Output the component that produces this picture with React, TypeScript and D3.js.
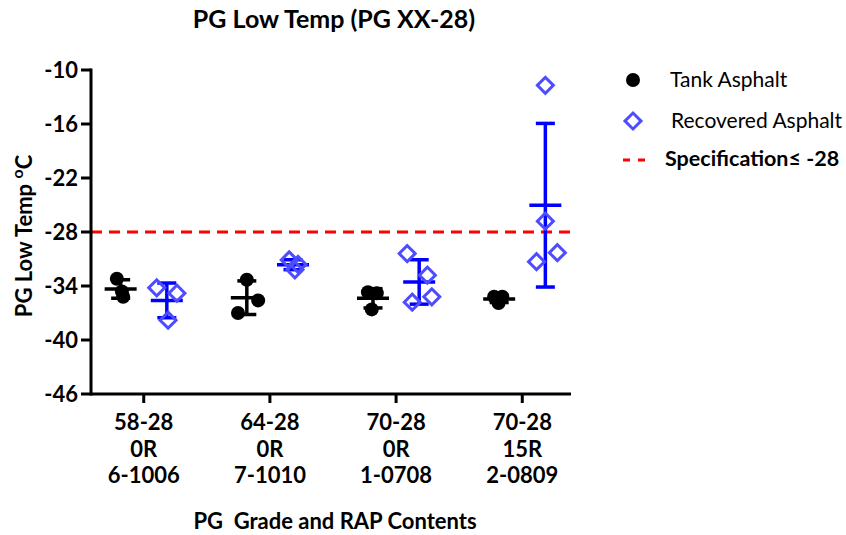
import * as d3 from "d3";

const categories = [
  ["58-28", "0R", "6-1006"],
  ["64-28", "0R", "7-1010"],
  ["70-28", "0R", "1-0708"],
  ["70-28", "15R", "2-0809"],
];

// PG low temperature, one array per category
const tankValues = [
  [-33.2, -34.6, -35.2],
  [-33.3, -35.6, -37.0],
  [-34.7, -34.8, -36.6],
  [-35.2, -35.2, -35.9],
];
const recoveredValues = [
  [-34.2, -34.8, -37.8],
  [-31.1, -31.6, -32.2],
  [-30.4, -32.8, -35.2, -35.8],
  [-11.7, -26.8, -30.3, -31.3],
];
// horizontal scatter of points, as fraction of category step
const tankJitter = [
  [-0.03, 0.01, 0.02],
  [0.0, 0.09, -0.07],
  [-0.04, 0.03, -0.01],
  [-0.04, 0.025, -0.005],
];
const recoveredJitter = [
  [-0.08, 0.08, 0.01],
  [-0.03, 0.04, 0.015],
  [-0.095, 0.065, 0.1, -0.055],
  [0.0, 0.0, 0.095, -0.07],
];
const yTicks = [-10, -16, -22, -28, -34, -40, -46];
const spec = -28;

const W = 846;
const H = 535;
const font = "Lato, 'Open Sans', sans-serif";

export default function App() {
  const left = 91;
  const right = 574;
  const top = 70;
  const bottom = 394;

  const x = d3
    .scalePoint<number>()
    .domain(d3.range(categories.length))
    .range([left + 1, right])
    .padding(0.41);
  const step = x.step();
  const y = d3.scaleLinear().domain([-46, -10]).range([bottom, top]);
  const off = 0.183 * step;

  const diamond = d3.symbol().type(d3.symbolSquare).size(128)();

  const errBar = (vals: number[], cx: number, color: string, key: string) => {
    const m = d3.mean(vals)!;
    const sd = d3.deviation(vals)!;
    return (
      <g key={key} stroke={color} strokeWidth={3.5} fill="none">
        <line x1={cx} x2={cx} y1={y(m + sd)} y2={y(m - sd)} />
        <line x1={cx - 9.5} x2={cx + 9.5} y1={y(m + sd)} y2={y(m + sd)} />
        <line x1={cx - 9.5} x2={cx + 9.5} y1={y(m - sd)} y2={y(m - sd)} />
        <line x1={cx - 16} x2={cx + 16} y1={y(m)} y2={y(m)} />
      </g>
    );
  };

  return (
    <svg
      width={W}
      height={H}
      style={{ position: "absolute", left: 0, top: 0, background: "#fff" }}
      fontFamily={font}
    >
      <text x={334} y={28} textAnchor="middle" fontSize={25} fontWeight="bold">
        PG Low Temp (PG XX-28)
      </text>

      {/* spec line */}
      <line
        x1={left}
        x2={right - 3}
        y1={y(spec)}
        y2={y(spec)}
        stroke="#ff0000"
        strokeWidth={3}
        strokeDasharray="11,7"
      />

      {/* tank asphalt */}
      {tankValues.map((vals, i) => {
        const cx = x(i)! - off;
        return (
          <g key={"t" + i}>
            {vals.map((v, j) => (
              <circle key={j} cx={cx + tankJitter[i][j] * step} cy={y(v)} r={7} fill="#000" />
            ))}
            {errBar(vals, cx, "#000", "te" + i)}
          </g>
        );
      })}

      {/* recovered asphalt */}
      {recoveredValues.map((vals, i) => {
        const cx = x(i)! + off;
        return (
          <g key={"r" + i}>
            {errBar(vals, cx, "#0000ff", "re" + i)}
            {vals.map((v, j) => (
              <path
                key={j}
                d={diamond!}
                transform={`translate(${cx + recoveredJitter[i][j] * step},${y(v)}) rotate(45)`}
                fill="none"
                stroke="#4d4dff"
                strokeWidth={3}
              />
            ))}
          </g>
        );
      })}

      {/* axes */}
      <line x1={left} x2={right - 3} y1={bottom} y2={bottom} stroke="#000" strokeWidth={3} />
      <line x1={left} x2={left} y1={top - 1.5} y2={bottom + 1.5} stroke="#000" strokeWidth={3} />
      {yTicks.map((t) => (
        <g key={t} transform={`translate(0,${y(t)})`}>
          <line x1={left - 10} x2={left} stroke="#000" strokeWidth={3} />
          <text x={left - 13} dy="0.36em" textAnchor="end" fontSize={22} fontWeight="bold">
            {t}
          </text>
        </g>
      ))}
      {categories.map((c, i) => (
        <g key={i} transform={`translate(${x(i)},0)`}>
          <line y1={bottom} y2={bottom + 9} stroke="#000" strokeWidth={3} />
          {c.map((s, k) => (
            <text key={k} y={430 + k * 26.5} textAnchor="middle" fontSize={22} fontWeight="bold">
              {s}
            </text>
          ))}
        </g>
      ))}

      <text x={335} y={529} textAnchor="middle" fontSize={22} fontWeight="bold" xmlSpace="preserve">
        PG  Grade and RAP Contents
      </text>
      <text
        transform={`translate(32,236) rotate(-90)`}
        textAnchor="middle"
        fontSize={22}
        fontWeight="bold"
      >
        PG Low Temp{" "}
        <tspan dy={-9} fontSize={16}>
          o
        </tspan>
        <tspan dy={9}>C</tspan>
      </text>

      {/* legend */}
      <g>
        <circle cx={633} cy={80} r={7} fill="#000" />
        <text x={670} y={87} fontSize={21}>
          Tank Asphalt
        </text>
        <path
          d={diamond!}
          transform="translate(633,121) rotate(45)"
          fill="none"
          stroke="#4d4dff"
          strokeWidth={3}
        />
        <text x={671} y={128} fontSize={21}>
          Recovered Asphalt
        </text>
        <line x1={623} x2={646} y1={160} y2={160} stroke="#ff0000" strokeWidth={3} strokeDasharray="7,8" />
        <text x={665} y={166} fontSize={21.5} fontWeight="bold">
          Specification≤ -28
        </text>
      </g>
    </svg>
  );
}
